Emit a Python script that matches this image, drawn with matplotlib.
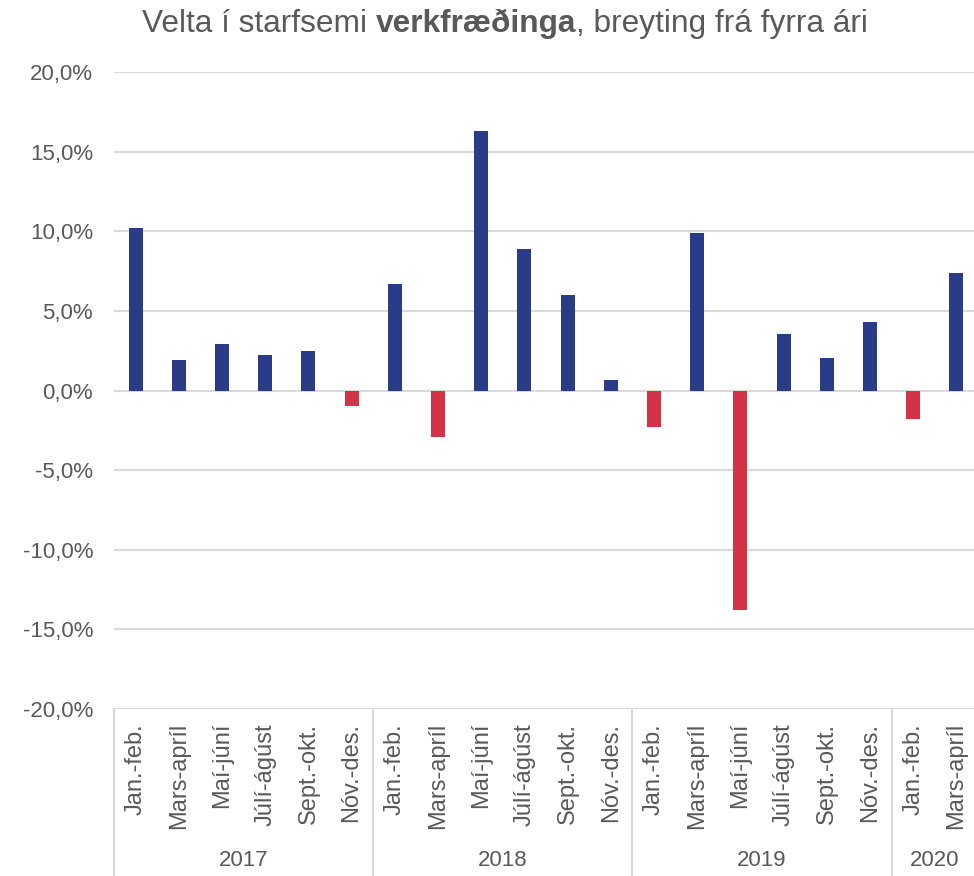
import numpy as np
import matplotlib
matplotlib.use("Agg")
import matplotlib.pyplot as plt
from matplotlib.transforms import blended_transform_factory

plt.rcParams['font.family'] = ['Liberation Sans', 'DejaVu Sans']

# data
periods = ["Jan.-feb.", "Mars-apríl", "Maí-júní", "Júlí-ágúst", "Sept.-okt.", "Nóv.-des."]
years = ["2017", "2018", "2019", "2020"]
year_counts = [6, 6, 6, 2]
values = [10.2, 1.9, 2.9, 2.2, 2.5, -1.0,
          6.7, -2.9, 16.3, 8.9, 6.0, 0.65,
          -2.3, 9.9, -13.8, 3.55, 2.05, 4.3,
          -1.8, 7.35]

labels = []
for n in year_counts:
    labels += periods[:n]

blue = "#2A3B88"
red = "#D43246"
grey_txt = "#595959"
grid_c = "#D9D9D9"

fig = plt.figure(figsize=(9.74, 8.76), dpi=100)
ax = fig.add_axes([114/974, 1-709/876, 1-114/974, (709-72)/876])

x = np.arange(len(values))
cols = [blue if v >= 0 else red for v in values]
ax.bar(x, values, width=0.32, color=cols, zorder=3)

ax.set_ylim(-20, 20)
ax.set_xlim(-0.5, 19.5 - 4/43.2)
ax.set_yticks(np.arange(-20, 21, 5))
ax.set_yticklabels([("%.1f%%" % t).replace(".", ",") for t in np.arange(-20, 21, 5)])
ax.yaxis.grid(True, color=grid_c, lw=1.5, zorder=0)
ax.tick_params(axis='y', length=0, pad=15, labelsize=16, labelcolor=grey_txt)
ax.set_xticks(x)
ax.set_xticklabels(labels, rotation=90, va='top', ha='center')
ax.tick_params(axis='x', length=0, pad=10, labelsize=17, labelcolor=grey_txt)
for s in ax.spines.values():
    s.set_visible(False)

# year groups below the category labels
trans = blended_transform_factory(ax.transData, ax.transAxes)
depth = -(876-709)/(709-72)
start = -0.5
for yr, n in zip(years, year_counts):
    ax.plot([start, start], [0, depth], transform=trans, color=grid_c, lw=1.5, clip_on=False)
    ax.text(start + n/2, 1-861/876, yr, transform=blended_transform_factory(ax.transData, fig.transFigure),
            ha='center', va='center', fontsize=16, color=grey_txt)
    start += n
ax.plot([start, start], [0, depth], transform=trans, color=grid_c, lw=1.5, clip_on=False)

# title with bold word in the middle
parts = [("Velta í starfsemi ", "normal"), ("verkfræðinga", "bold"), (", breyting frá fyrra ári", "normal")]
renderer = fig.canvas.get_renderer()
texts = []
total = 0
for s, w in parts:
    t = fig.text(0, 1-24/876, s, fontsize=22.8, fontweight=w, color=grey_txt, va='center', ha='left')
    bb = t.get_window_extent(renderer)
    texts.append((t, bb.width))
    total += bb.width
xpos = 505 - total/2
for t, w in texts:
    t.set_x(xpos/974)
    xpos += w

fig.savefig("out.png", dpi=100)
